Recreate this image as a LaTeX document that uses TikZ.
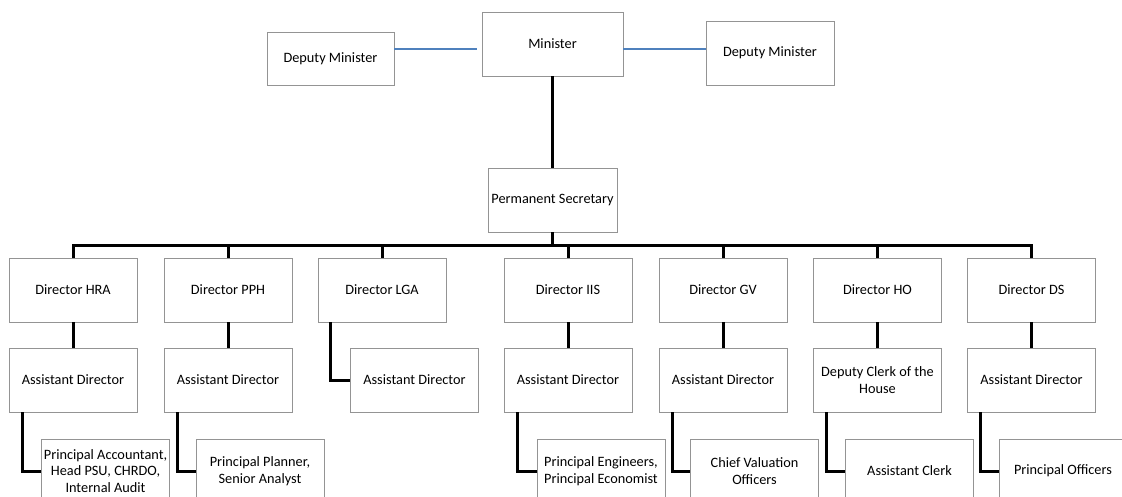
\documentclass[tikz,border=0pt]{standalone}
\usepackage{fontspec}
\setmainfont{Carlito}
\begin{document}
\begin{tikzpicture}[x=1pt,y=-1pt,
  box/.style={draw=black!42, line width=0.8pt, fill=white, inner sep=0pt,
    minimum width=128pt, minimum height=64pt, align=center,
    font=\fontsize{14.3}{16.5}\selectfont},
  link/.style={line width=3pt, black},
  peer/.style={line width=1.3pt, draw={rgb,255:red,79;green,129;blue,189}}]
\clip (0,0) rectangle (1122,497);
\fill[white] (0,0) rectangle (1122,497);

% top level
\node[box, minimum width=141pt] (min) at (552.5,44) {Minister};
\node[box, minimum width=127pt, minimum height=53pt] (dml) at (330.5,58.5) {Deputy Minister};
\node[box] (dmr) at (770,53) {Deputy Minister};
\node[box, minimum width=129pt] (ps) at (552.5,200) {Permanent Secretary};

\draw[peer] ([yshift=9.5pt]dml.east) -- ([xshift=-5pt,yshift=-5pt]min.west);
\draw[peer] ([yshift=-5pt]min.east) -- ([yshift=4pt]dmr.west);
\draw[link] (min.south) -- (ps.north);

% directors
\node[box] (d1) at (73,290) {Director HRA};
\node[box] (d2) at (228,290) {Director PPH};
\node[box] (d3) at (382,290) {Director LGA};
\node[box] (d4) at (568,290) {Director IIS};
\node[box] (d5) at (723,290) {Director GV};
\node[box] (d6) at (877.5,290) {Director HO};
\node[box] (d7) at (1031.5,290) {Director DS};

\foreach \d in {d1,d2,d3,d4,d5,d6,d7}
  \draw[link] (ps.south) -- ++(0,13) -| (\d.north);

% second level
\node[box] (a1) at (73,380) {Assistant Director};
\node[box] (a2) at (228,380) {Assistant Director};
\node[box] (a3) at (414.5,380) {Assistant Director};
\node[box] (a4) at (568,380) {Assistant Director};
\node[box] (a5) at (723,380) {Assistant Director};
\node[box] (a6) at (877.5,380) {Deputy Clerk of the\\House};
\node[box] (a7) at (1031.5,380) {Assistant Director};

\foreach \i in {1,2,4,5,6,7}
  \draw[link] (d\i.south) -- (a\i.north);
\draw[link] ([xshift=13pt]d3.south west) |- (a3.west);

% third level
\node[box] (s1) at (105.5,471) {Principal Accountant,\\Head PSU, CHRDO,\\Internal Audit};
\node[box] (s2) at (260,471) {Principal Planner,\\Senior Analyst};
\node[box] (s4) at (601,471) {Principal Engineers,\\Principal Economist};
\node[box] (s5) at (754.5,471) {Chief Valuation\\Officers};
\node[box] (s6) at (909.5,471) {Assistant Clerk};
\node[box] (s7) at (1063,471) {Principal Officers};

\foreach \i in {1,2,4,5,6,7}
  \draw[link] ([xshift=13.5pt]a\i.south west) |- (s\i.west);
\end{tikzpicture}
\end{document}
